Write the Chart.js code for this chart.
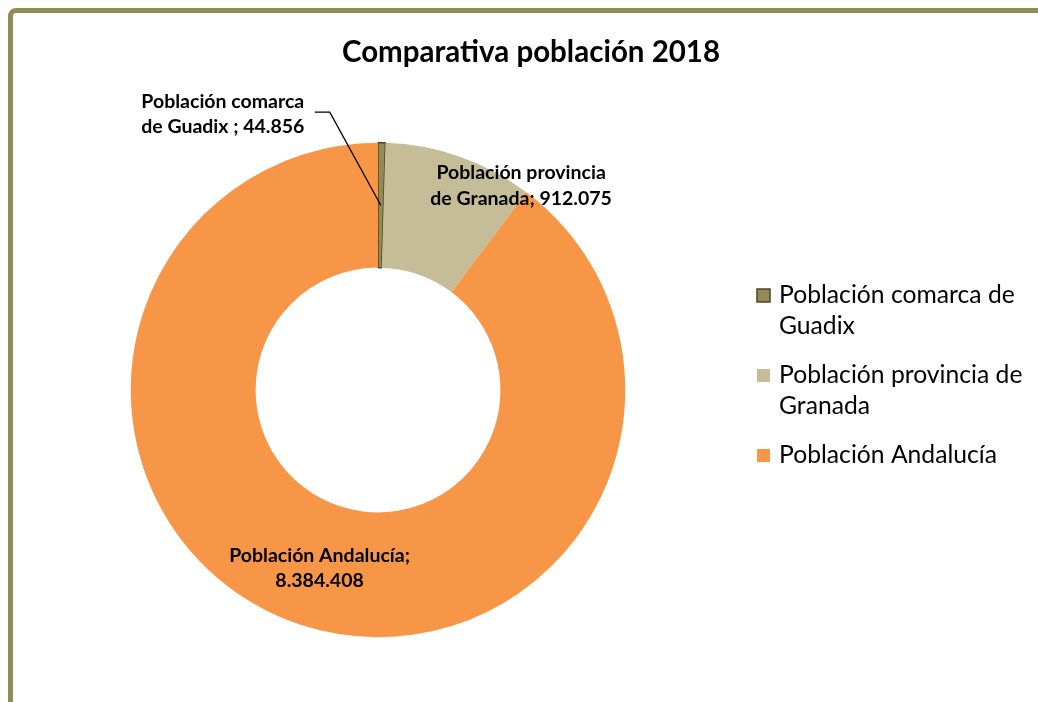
<!DOCTYPE html>
<html>
<head>
<meta charset="utf-8">
<script src="https://cdn.jsdelivr.net/npm/chart.js@4.4.1/dist/chart.umd.min.js"></script>
<style>
  html, body { margin: 0; padding: 0; background: #fff; overflow: hidden; }
  #wrap { position: relative; width: 1038px; height: 702px; }
  #frame {
    position: absolute; left: 8px; top: 8px; width: 1060px; height: 740px;
    border: 5px solid #948A54; border-radius: 8px; box-sizing: border-box;
  }
  canvas { position: absolute; left: 0; top: 0; }
</style>
</head>
<body>
<div id="wrap">
  <div id="frame"></div>
  <canvas id="chart" width="1038" height="702"></canvas>
</div>
<script>
// datos
const titulo = 'Comparativa población 2018';
const categorias = ['Población comarca de Guadix', 'Población provincia de Granada', 'Población Andalucía'];
const valores = [44856, 912075, 8384408];
const colores = ['#948A54', '#C4BD97', '#F79646'];
const bordes = ['#4A4526', '#C4BD97', '#F79646'];
// etiquetas de datos (texto en varias líneas)
const etiquetas = [
    ['Población comarca', 'de Guadix ; 44.856'],
    ['Población provincia', 'de Granada; 912.075'],
    ['Población Andalucía;', '8.384.408']
];
// leyenda (texto partido como en el original)
const leyenda = [
    ['Población comarca de', 'Guadix'],
    ['Población provincia de', 'Granada'],
    ['Población Andalucía']
];

const FUENTE = 'Lato, "Open Sans", sans-serif';

// desplazamiento de cada etiqueta respecto al centro del sector
const desplaz = [
    { dx: -158, dy: -91, linea: true },
    { dx: 82, dy: -30, linea: false },
    { dx: 0, dy: 3, linea: false }
];

const pluginDibujo = {
    id: 'dibujo',
    afterDraw(chart) {
        const ctx = chart.ctx;
        ctx.save();

        // titulo
        ctx.fillStyle = '#000';
        ctx.font = 'bold 29.5px ' + FUENTE;
        ctx.textAlign = 'center';
        ctx.textBaseline = 'middle';
        ctx.fillText(titulo, 531, 52);

        // etiquetas de datos
        const meta = chart.getDatasetMeta(0);
        meta.data.forEach((arc, i) => {
            const p = arc.getCenterPoint();
            const d = desplaz[i];
            const cx = p.x + d.dx, cy = p.y + d.dy;
            ctx.font = 'bold 19.5px ' + FUENTE;
            ctx.fillStyle = '#000';
            ctx.textAlign = 'center';
            const lines = etiquetas[i];
            const lh = 25.5;
            lines.forEach((t, k) => {
                ctx.fillText(t, cx, cy + (k - (lines.length - 1) / 2) * lh);
            });
            if (d.linea) {
                ctx.strokeStyle = '#000';
                ctx.lineWidth = 1.3;
                ctx.beginPath();
                ctx.moveTo(cx + 92, cy - 2);
                ctx.lineTo(cx + 107, cy - 2);
                ctx.lineTo(p.x, p.y);
                ctx.stroke();
            }
        });

        // leyenda
        ctx.textAlign = 'left';
        ctx.font = '24.7px ' + FUENTE;
        let y = 295;
        leyenda.forEach((lines, i) => {
            ctx.fillStyle = colores[i];
            ctx.fillRect(757, y - 6, 13, 13);
            if (i === 0) {
                ctx.strokeStyle = bordes[0];
                ctx.lineWidth = 1.5;
                ctx.strokeRect(757, y - 6, 13, 13);
            }
            ctx.fillStyle = '#000';
            lines.forEach((t, k) => {
                ctx.fillText(t, 779, y + k * 31);
            });
            y += (lines.length - 1) * 31 + 49;
        });

        ctx.restore();
    }
};

new Chart(document.getElementById('chart'), {
    type: 'doughnut',
    data: {
        labels: categorias,
        datasets: [{
            data: valores,
            backgroundColor: colores,
            borderColor: bordes,
            borderWidth: [1.5, 0, 0],
            hoverOffset: 0
        }]
    },
    options: {
        responsive: false,
        animation: false,
        cutout: '49.5%',
        layout: { padding: { left: 130, right: 412, top: 142, bottom: 64 } },
        plugins: {
            legend: { display: false },
            title: { display: false },
            tooltip: { enabled: false }
        }
    },
    plugins: [pluginDibujo]
});
</script>
</body>
</html>
